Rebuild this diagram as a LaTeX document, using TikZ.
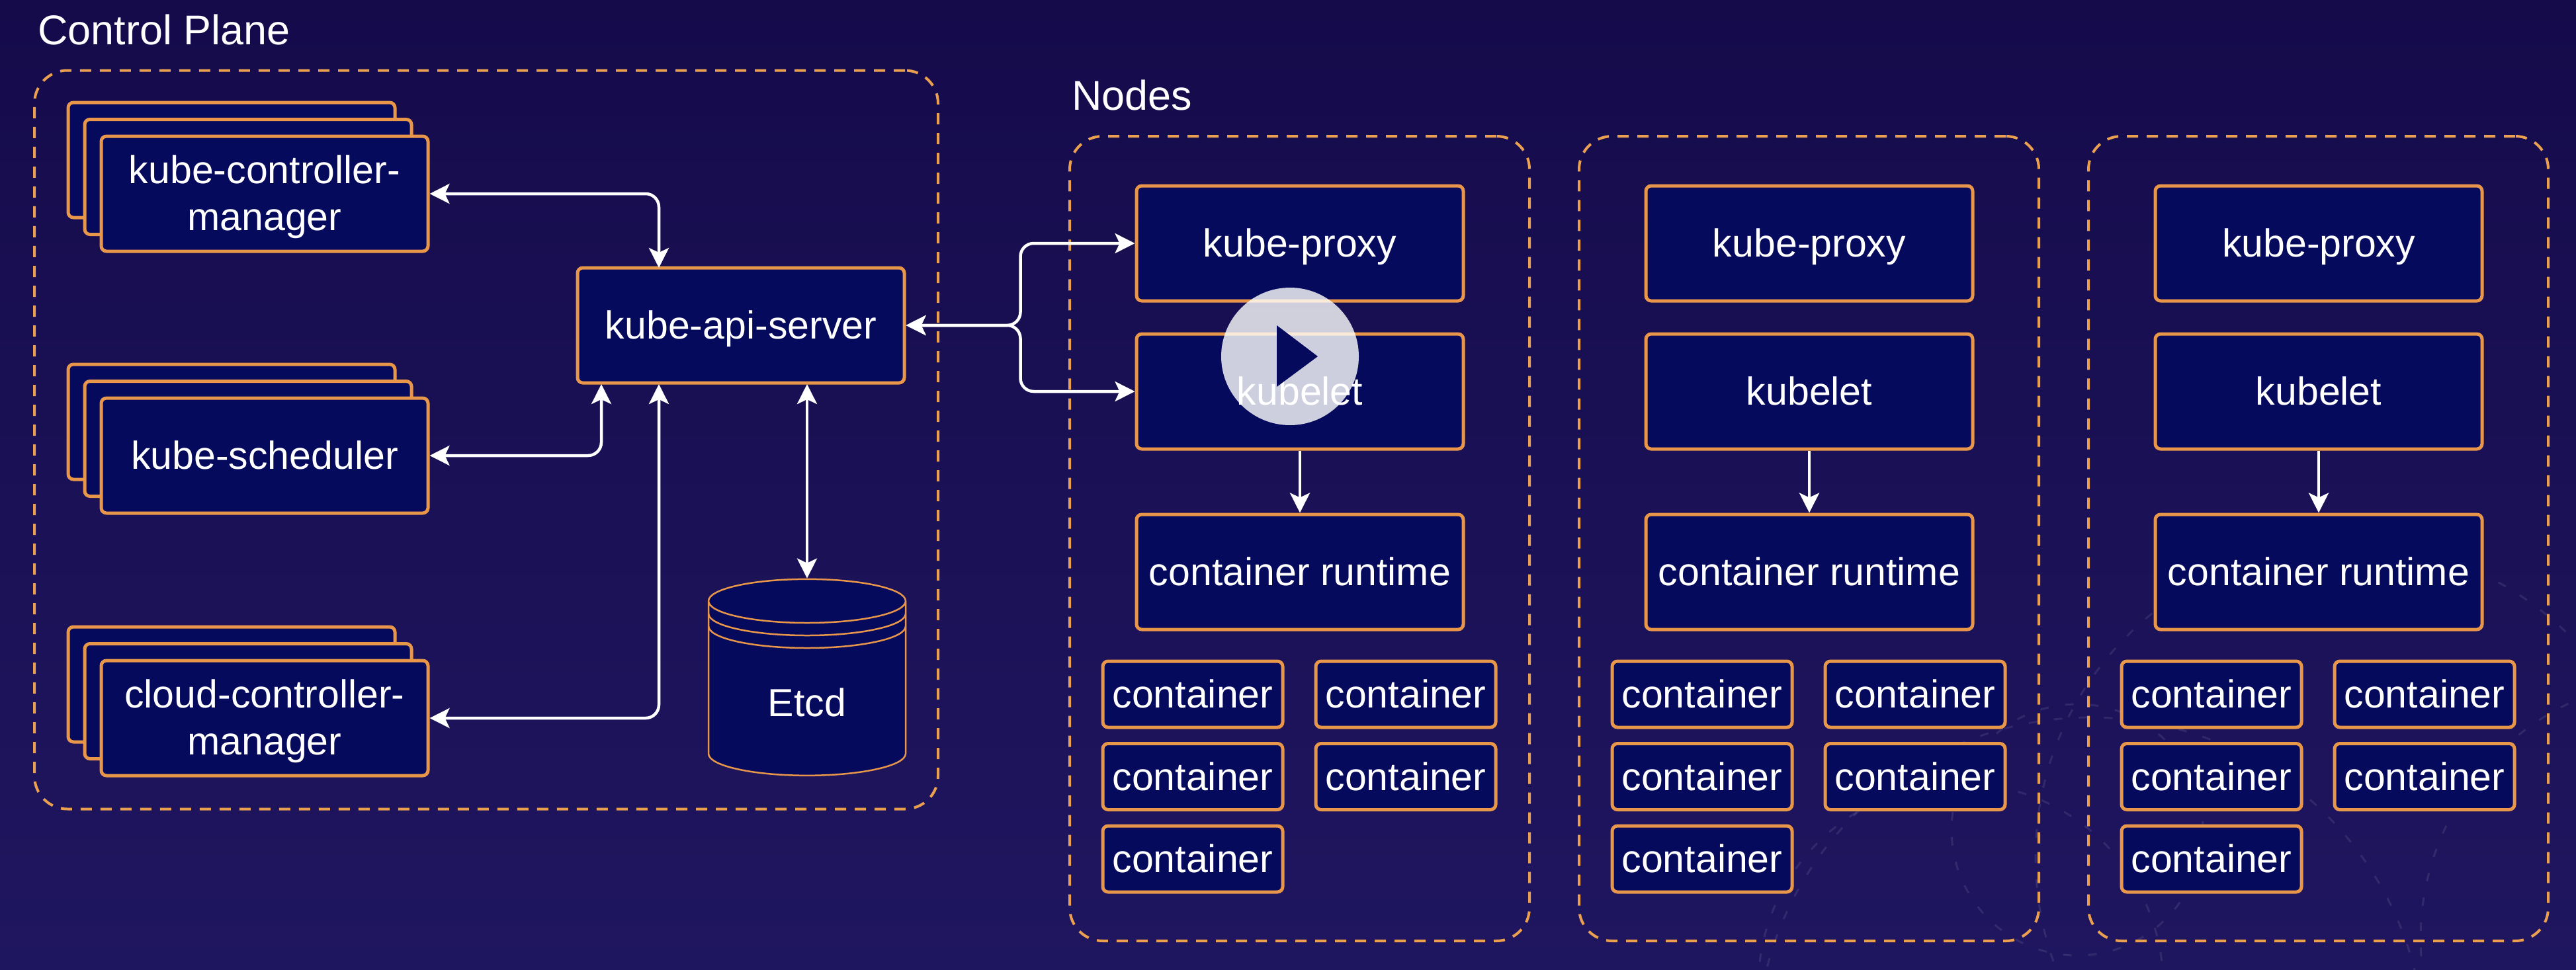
\documentclass[tikz,border=0pt]{standalone}
\usepackage{fontspec}
\setmainfont{Liberation Sans}
\usetikzlibrary{arrows.meta,shapes.geometric}

\definecolor{bgtop}{HTML}{150B4B}
\definecolor{bgbottom}{HTML}{1F1660}
\definecolor{boxfill}{HTML}{060A5C}
\definecolor{boxline}{HTML}{E8974A}
\definecolor{dashline}{HTML}{EBA050}

\begin{document}
\begin{tikzpicture}[
    >={Stealth[length=.3cm,width=.3cm,inset=.07cm]},
    every node/.style={text=white,font=\fontsize{16.8}{20}\selectfont},
    oneline/.style={text height=.5cm,text depth=.09cm},
    twolines/.style={text height=1.2cm,text depth=.1cm},
    box/.style={draw=boxline,fill=boxfill,line width=.05cm,rounded corners=.08cm,align=center,inner sep=0pt,oneline},
    bigbox/.style={box,minimum width=4.94cm,minimum height=1.74cm},
    smallbox/.style={box,minimum width=2.72cm,minimum height=1cm},
    dashframe/.style={draw=dashline,line width=.04cm,dash pattern=on .17cm off .13cm,rounded corners=.5cm,inner sep=0pt},
    conn/.style={draw=white,line width=.045cm,rounded corners=.2cm},
    faint/.style={draw=white,draw opacity=.09,line width=.03cm,dash pattern=on .13cm off .25cm},
    pics/workernode/.style={code={
      \node[dashframe,minimum width=6.95cm,minimum height=12.17cm] (-frame) at (19.645,-8.145) {};
      \node[bigbox] (-proxy) at (19.65,-3.68) {kube-proxy};
      \node[bigbox] (-kubelet) at (19.65,-5.92) {kubelet};
      \node[bigbox] (-runtime) at (19.65,-8.65) {container runtime};
      \draw[conn,->] (-kubelet) -- (-runtime);
      \foreach \n/\x/\y in {1/18.03/-10.5,2/21.25/-10.5,3/18.03/-11.745,4/21.25/-11.745,5/18.03/-12.99}
        \node[smallbox] (-cont\n) at (\x,\y) {container};
    }}
  ]
  % background
  \useasboundingbox (0,-14.66) rectangle (38.94,0);
  \fill[top color=bgtop,bottom color=bgbottom] (0,-14.66) rectangle (38.94,0);
  \begin{scope}
    \clip (0,-14.66) rectangle (38.94,0);
    \foreach \x/\y/\r in {31.6/-15.9/5.05,31.4/-12.55/1.9,35.5/-12.96/4.73,40.54/-14.2/3.95,29.64/-14.91/3.06}
      \draw[faint] (\x,\y) circle[radius=\r];
  \end{scope}

  \node[anchor=west,font=\fontsize{17.9}{20}\selectfont] (controltitle) at (.45,-.45) {Control Plane};
  \node[anchor=west,font=\fontsize{17.9}{20}\selectfont] (nodestitle) at (16.08,-1.44) {Nodes};
  \node[dashframe,minimum width=13.66cm,minimum height=11.17cm] (controlframe) at (7.35,-6.65) {};

  % control plane, each one on a stack of three
  \foreach \n/\y/\s/\t in {ctrl/-2.93/twolines/{kube-controller-\\manager},sched/-6.89/oneline/kube-scheduler,cloud/-10.86/twolines/{cloud-controller-\\manager}}{
    \node[bigbox] (\n back) at (3.5,\y+.51) {};
    \node[bigbox] (\n mid) at (3.75,\y+.255) {};
    \node[bigbox,\s] (\n) at (4,\y) {\t};
  }
  \node[bigbox] (api) at (11.2,-4.92) {kube-api-server};
  \node[cylinder,shape border rotate=90,aspect=.56,draw=boxline,fill=boxfill,line width=.025cm,
    minimum width=2.98cm,minimum height=2.97cm,inner sep=0pt,text height=.87cm,text depth=.04cm] (etcd) at (12.2,-10.415) {Etcd};
  \foreach \y in {-9.28,-9.47}
    \draw[boxline,line width=.025cm] (10.71,\y) arc[start angle=180,end angle=360,x radius=1.49,y radius=.33];

  \coordinate (ctrlin) at (9.96,-4.05);
  \coordinate (schedin) at (9.09,-5.81);
  \coordinate (cloudin) at (9.96,-5.81);
  \coordinate (etcdin) at (12.2,-5.81);
  \draw[conn,<->] (ctrl.east) -| (ctrlin);
  \draw[conn,<->] (sched.east) -| (schedin);
  \draw[conn,<->] (cloud.east) -| (cloudin);
  \draw[conn,<->] (etcdin) -- (etcd.top);

  % one column per node
  \foreach \i/\x in {1/0,2/7.7,3/15.4}
    \pic (worker\i) at (\x,0) {workernode};

  \draw[conn,<->] (api.east) -- ++(1.73,0) |- (worker1-proxy.west);
  \draw[conn,<->] (api.east) -- ++(1.73,0) |- (worker1-kubelet.west);

  % the play button
  \node[circle,fill=white,fill opacity=.8,minimum size=2.08cm,inner sep=0pt] (play) at (19.5,-5.39) {};
  \fill[boxfill] (19.3,-4.92) -- (19.92,-5.39) -- (19.3,-5.85) -- cycle;
\end{tikzpicture}
\end{document}
